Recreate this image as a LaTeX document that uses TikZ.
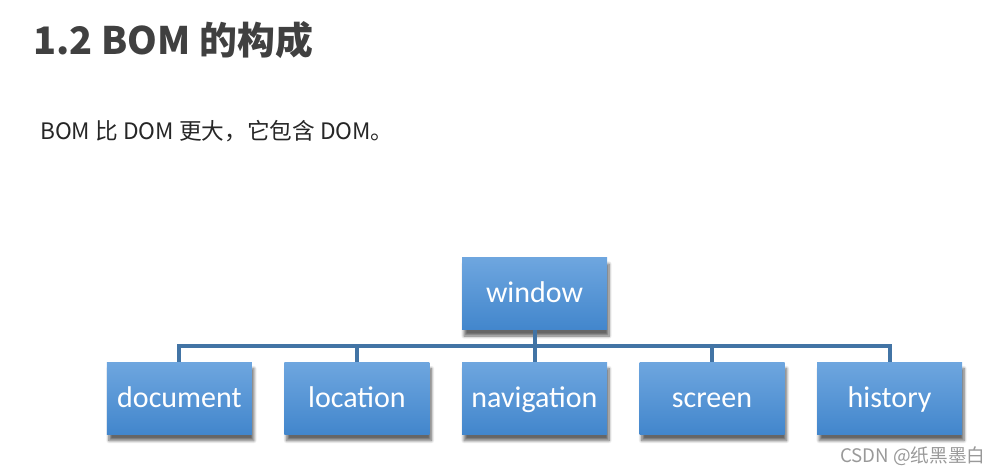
\documentclass[tikz,border=0pt]{standalone}
\usepackage{fontspec}
\setmainfont{Noto Sans CJK SC}
\newfontfamily\boxfont{Carlito}
\usetikzlibrary{positioning}
\usetikzlibrary{shadows.blur}
\definecolor{boxtop}{RGB}{110,166,223}
\definecolor{boxbottom}{RGB}{66,134,204}
\definecolor{linkblue}{RGB}{66,116,165}
\definecolor{titlegray}{RGB}{64,64,64}
\tikzset{node distance=24pt, % gap between the boxes
      bomobj/.style={ % one object of the BOM tree
      rectangle, inner sep=0pt,
      minimum width=108.75pt, minimum height=54pt,
      text height=16pt, text depth=2.5pt,
      top color=boxtop, bottom color=boxbottom,
      text=white, font=\boxfont\fontsize{22.5}{26}\selectfont,
      blur shadow={shadow xshift=1.5pt, shadow yshift=-4.5pt, shadow blur steps=8, shadow opacity=60}},
      link/.style={ % tree lines
      draw=linkblue, line width=3pt}}

\begin{document}
\begin{tikzpicture}[x=0.75pt,y=-0.75pt]
      \useasboundingbox (0,0) rectangle (1006,473);
      \node[anchor=base west, inner sep=0pt, text=titlegray, font=\bfseries\fontsize{28.4}{34}\selectfont] (title) at (33,55) {1.2 BOM 的构成};
      \node[anchor=base west, inner sep=0pt, text=black!85, font=\fontsize{17}{20}\selectfont] (intro) at (40,140) {BOM 比 DOM 更大，它包含 DOM。};
      \node[bomobj] (win) at (534.5,294) {window};
      \node[bomobj, below=of win] (nav) {navigation};
      \node[bomobj, left=of nav] (loc) {location};
      \node[bomobj, left=of loc] (doc) {document};
      \node[bomobj, right=of nav] (scr) {screen};
      \node[bomobj, right=of scr] (his) {history};
      \coordinate[below=12pt of win.south] (bus);
      \draw[link] (win.south) -- (nav.north);
      \draw[link] (bus) -| (doc.north);
      \draw[link] (bus) -| (loc.north);
      \draw[link] (bus) -| (scr.north);
      \draw[link] (bus) -| (his.north);
      \node[anchor=base west, inner sep=0pt, text=black!40, font=\fontsize{14}{17}\selectfont] (mark) at (840,462) {CSDN @纸黑墨白};
    \end{tikzpicture}
\end{document}
